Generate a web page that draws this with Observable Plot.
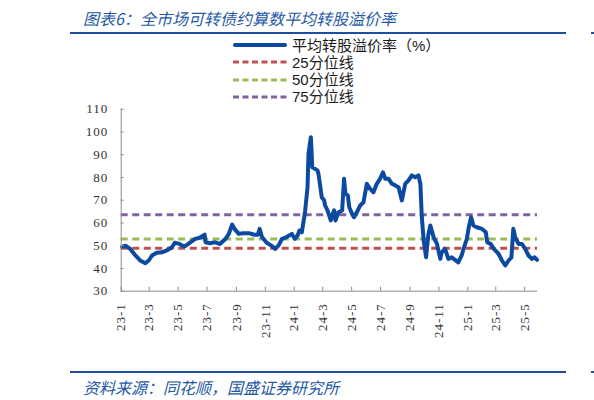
<!DOCTYPE html>
<html><head><meta charset="utf-8">
<script src="https://cdn.jsdelivr.net/npm/d3@7"></script>
<script src="https://cdn.jsdelivr.net/npm/@observablehq/plot@0.6"></script>
<style>
body{margin:0;background:#fff;}
#wrap{position:relative;width:594px;height:400px;overflow:hidden;font-family:"Noto Sans CJK SC",sans-serif;}
.title{position:absolute;left:83px;top:8px;font-size:16px;line-height:20px;color:#2457a5;font-style:italic;white-space:nowrap;}
.foot{position:absolute;left:83px;top:377px;font-size:16px;line-height:20px;color:#2457a5;font-style:italic;white-space:nowrap;}
.rule{position:absolute;height:2px;background:#1f4e9c;}
.legend{position:absolute;left:233px;top:36px;}
.row{position:absolute;left:0;height:17px;line-height:17px;display:flex;align-items:center;white-space:nowrap;font-size:15px;color:#1a1a1a;font-family:"Liberation Sans","Noto Sans CJK SC",sans-serif;}
.row svg{margin-right:5px;}
#chart{position:absolute;left:0;top:100px;}
#chart svg text{font-family:"Liberation Serif",serif;font-size:13px;fill:#333;letter-spacing:1px;}
</style>
</head><body>
<div id="wrap">
  <div class="title">图表6：全市场可转债约算数平均转股溢价率</div>
  <div class="rule" style="left:70px;width:496px;top:32px;"></div>
  <div class="rule" style="left:591px;width:3px;top:32px;"></div>
  <div class="legend" id="legend"></div>
  <div id="chart"></div>
  <div class="rule" style="left:70px;width:496px;top:371px;"></div>
  <div class="rule" style="left:591px;width:3px;top:371px;"></div>
  <div class="foot">资料来源：同花顺，国盛证券研究所</div>
</div>
<script>
// ---- data ----
const dates = [
"2023-01-03","2023-01-10","2023-01-20","2023-01-31","2023-02-10","2023-02-21","2023-02-28","2023-03-07","2023-03-17","2023-03-28",
"2023-04-07","2023-04-18","2023-04-24","2023-05-04","2023-05-09","2023-05-16","2023-05-26","2023-06-06","2023-06-16","2023-06-26",
"2023-06-28","2023-07-07","2023-07-18","2023-07-28","2023-08-09","2023-08-16","2023-08-23","2023-08-28","2023-09-06","2023-09-15",
"2023-09-27","2023-10-09","2023-10-16","2023-10-20","2023-10-25","2023-11-03","2023-11-15","2023-11-22","2023-11-29","2023-12-06",
"2023-12-15","2023-12-27","2024-01-02","2024-01-08","2024-01-12","2024-01-17","2024-01-22","2024-01-24","2024-01-29","2024-01-31",
"2024-02-05","2024-02-06","2024-02-08","2024-02-19","2024-02-21","2024-02-26","2024-02-28","2024-03-04","2024-03-06","2024-03-11",
"2024-03-18","2024-03-21","2024-03-25","2024-03-28","2024-04-03","2024-04-11","2024-04-15","2024-04-18","2024-04-23","2024-04-26",
"2024-05-02","2024-05-06","2024-05-12","2024-05-19","2024-05-26","2024-06-02","2024-06-09","2024-06-16","2024-06-23","2024-06-30",
"2024-07-06","2024-07-11","2024-07-18","2024-07-25","2024-08-01","2024-08-08","2024-08-15","2024-08-22","2024-08-29","2024-09-05",
"2024-09-12","2024-09-19","2024-09-23","2024-09-26","2024-09-30","2024-10-05","2024-10-10","2024-10-14","2024-10-21","2024-10-28",
"2024-11-04","2024-11-07","2024-11-14","2024-11-21","2024-11-28","2024-12-05","2024-12-12","2024-12-19","2024-12-24","2024-12-30",
"2025-01-03","2025-01-08","2025-01-13","2025-01-20","2025-01-31","2025-02-08","2025-02-11","2025-02-18","2025-02-25","2025-03-07",
"2025-03-14","2025-03-21","2025-03-28","2025-04-03","2025-04-07","2025-04-11","2025-04-18","2025-04-25","2025-05-02","2025-05-09",
"2025-05-16","2025-05-22","2025-05-27"
];
const premium = [
49.6,50.0,48.6,45.7,43.5,42.3,43.5,45.7,46.9,47.1,
47.9,49.3,51.3,50.8,50.1,49.8,51.3,53.0,53.5,54.9,
51.5,51.1,51.5,50.8,53.0,55.2,59.3,57.4,55.2,55.5,
55.5,54.8,54.8,57.4,53.7,51.5,49.8,48.6,50.1,53.0,
53.7,55.2,53.0,54.5,56.7,55.9,62.5,65.5,75.7,90.4,
97.7,93.3,84.5,83.1,81.6,74.3,71.3,69.9,67.7,65.5,
61.1,63.3,65.5,61.1,64.7,65.5,79.4,72.8,72.1,66.9,
64.0,62.5,64.7,67.7,69.1,77.2,75.0,73.5,77.2,79.4,
82.3,79.4,79.4,77.2,76.5,75.7,69.9,77.2,78.7,80.9,
80.1,80.9,77.2,62.5,52.3,44.9,55.2,58.9,53.7,50.8,
44.2,47.1,48.6,44.2,44.9,43.8,42.7,45.7,49.3,53.0,
58.1,62.5,58.9,58.1,57.4,55.9,51.5,50.8,48.6,46.4,
43.5,41.3,43.5,44.9,57.4,53.7,50.8,50.8,48.6,45.7,
44.2,44.9,43.8
];
const seriesNames = ["平均转股溢价率（%）","25分位线","50分位线","75分位线"];
const percentileValues = [48.9, 52.9, 63.6];
const colors = ["#0b4aa0","#c0504d","#9bbb59","#8064a2"];
const tickDates = ["2023-01-01","2023-03-01","2023-05-01","2023-07-01","2023-09-01","2023-11-01","2024-01-01","2024-03-01","2024-05-01","2024-07-01","2024-09-01","2024-11-01","2025-01-01","2025-03-01","2025-05-01"];
const tickLabels = ["23-1","23-3","23-5","23-7","23-9","23-11","24-1","24-3","24-5","24-7","24-9","24-11","25-1","25-3","25-5"];
const yTicks = [30,40,50,60,70,80,90,100,110];
const xStart = "2023-01-01", xEnd = "2025-05-28";

const data = dates.map((d,i)=>({date:new Date(d), value:premium[i]}));
const xt = tickDates.map(d=>new Date(d));
const labelOf = new Map(xt.map((d,i)=>[+d, tickLabels[i]]));
const axisColor = "#8c8c8c";

const chart = Plot.plot({
  width:594, height:245,
  marginLeft:120.7, marginRight:57, marginTop:8.7, marginBottom:54.3,
  style:{fontFamily:"Liberation Serif, serif", fontSize:"13px", background:"transparent"},
  x:{type:"utc", domain:[new Date(xStart), new Date(xEnd)]},
  y:{domain:[30,110]},
  marks:[
    Plot.ruleY([percentileValues[0]], {stroke:colors[1], strokeWidth:3, strokeDasharray:"7,4.5"}),
    Plot.ruleY([percentileValues[1]], {stroke:colors[2], strokeWidth:3, strokeDasharray:"7,4.5"}),
    Plot.ruleY([percentileValues[2]], {stroke:colors[3], strokeWidth:3, strokeDasharray:"7,4.5"}),
    Plot.line(data, {x:"date", y:"value", stroke:colors[0], strokeWidth:4, strokeLinejoin:"round", strokeLinecap:"round"}),
    Plot.ruleY([30], {stroke:axisColor, strokeWidth:1}),
    Plot.ruleX([new Date(xStart)], {stroke:axisColor, strokeWidth:1}),
    Plot.axisY({ticks:yTicks, tickSize:0, tickPadding:13, label:null}),
    Plot.axisY({ticks:yTicks, tickSize:3, dx:3, tickFormat:()=>"", label:null, stroke:axisColor}),
    Plot.axisX({ticks:xt, tickSize:0, tickRotate:-90, tickPadding:12, tickFormat:d=>labelOf.get(+d), label:null}),
    Plot.axisX({ticks:xt, tickSize:4, dy:-4, tickFormat:()=>"", label:null, stroke:axisColor})
  ]
});
document.getElementById("chart").appendChild(chart);

// legend
const legend = document.getElementById("legend");
const tops = [0.5, 17.8, 35.1, 52.4];
seriesNames.forEach((name,i)=>{
  const row = document.createElement("div");
  row.className = "row";
  row.style.top = tops[i] + "px";
  const dash = i===0 ? "" : ` stroke-dasharray="6,3.5"`;
  const sw = i===0 ? 4 : 3;
  row.innerHTML = `<svg width="54" height="8"><line x1="${i===0?2:0}" x2="${i===0?52:54}" y1="4" y2="4" stroke="${colors[i]}" stroke-width="${sw}" stroke-linecap="${i===0?'round':'butt'}"${dash}/></svg><span>${name}</span>`;
  legend.appendChild(row);
});
</script>
</body></html>
